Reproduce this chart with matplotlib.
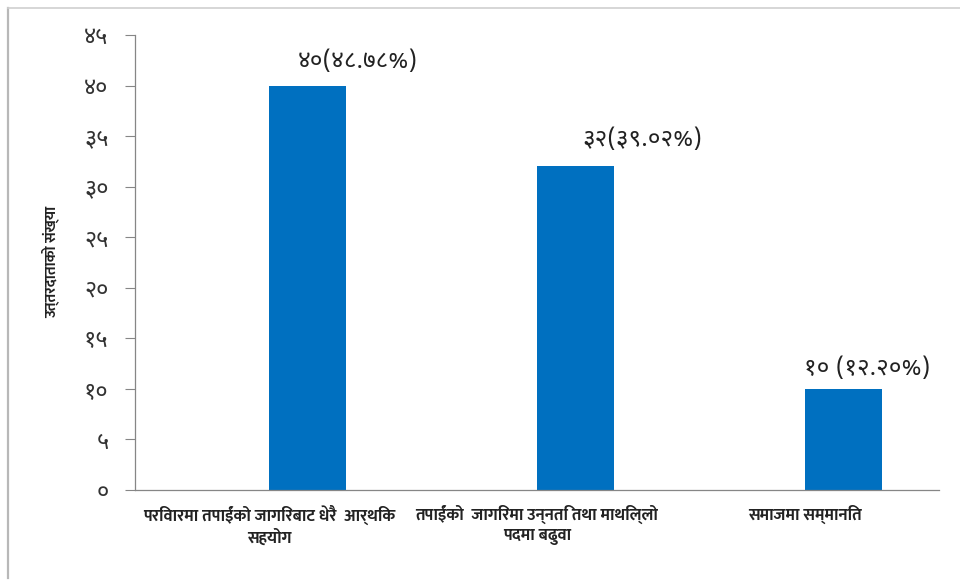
import matplotlib
matplotlib.use("Agg")
import matplotlib.pyplot as plt
from matplotlib.lines import Line2D

plt.rcParams['font.family'] = ['Noto Sans Devanagari', 'DejaVu Sans']
bold_fam = ['Mukta', 'Noto Sans Devanagari', 'DejaVu Sans']

# survey responses
categories = [
    "परिवारमा तपाईंको जागिरबाट धेरै  आर्थिक\nसहयोग",
    "तपाईंको  जागिरमा उन्नति तथा माथिल्लो\nपदमा बढुवा",
    "समाजमा सम्मानित",
]
counts = [40, 32, 10]
bar_labels = ["४०(४८.७८%)", "३२(३९.०२%)", "१० (१२.२०%)"]
yticks = [0, 5, 10, 15, 20, 25, 30, 35, 40, 45]
ytick_labels = ["०", "५", "१०", "१५", "२०", "२५", "३०", "३५", "४०", "४५"]
ylabel = "उत्तरदाताको संख्या"

# label offsets from the bar top centre, in points
label_offsets = [(36, 17), (48, 19), (17, 14)]

fig = plt.figure(figsize=(9.6, 5.81), dpi=100)

# outer chart border
fig.add_artist(Line2D([8/960, 8/960], [0.005, 1 - 8/581], transform=fig.transFigure,
                      color="#b8b8b8", lw=1.6))
fig.add_artist(Line2D([8/960, 1.0], [1 - 8/581, 1 - 8/581], transform=fig.transFigure,
                      color="#d0d0d0", lw=1.2))

ax = fig.add_axes([135/960, 1 - 490/581, (939 - 135)/960, (490 - 35)/581])

x = list(range(len(counts)))
bars = ax.bar(x, counts, width=0.287, align="edge", color="#0070C0")

for b, lab, (dx, dy) in zip(bars, bar_labels, label_offsets):
    ax.annotate(lab, (b.get_x() + b.get_width() / 2, b.get_height()),
                xytext=(dx, dy), textcoords="offset points",
                ha="center", va="center", fontsize=17.5, color="#222222")

ax.set_xlim(-0.5, 2.5)
ax.set_ylim(0, 45)
ax.set_yticks(yticks)
ax.set_yticklabels(ytick_labels, fontsize=17, color="#333333")
ax.set_xticks(x)
ax.set_xticklabels(categories, fontsize=12, fontweight="bold", family=bold_fam,
                   color="#222222", linespacing=1.3)
ax.tick_params(axis="x", length=0, pad=11)
ax.tick_params(axis="y", length=7, width=0.8, color="#868686", pad=12)

for s in ["top", "right"]:
    ax.spines[s].set_visible(False)
for s in ["left", "bottom"]:
    ax.spines[s].set_color("#868686")
    ax.spines[s].set_linewidth(0.9)

fig.text(50/960, 1 - 262/581, ylabel, rotation=90, ha="center", va="center",
         fontsize=11, fontweight="bold", family=bold_fam, color="#222222")

fig.savefig("out.png", dpi=100)
